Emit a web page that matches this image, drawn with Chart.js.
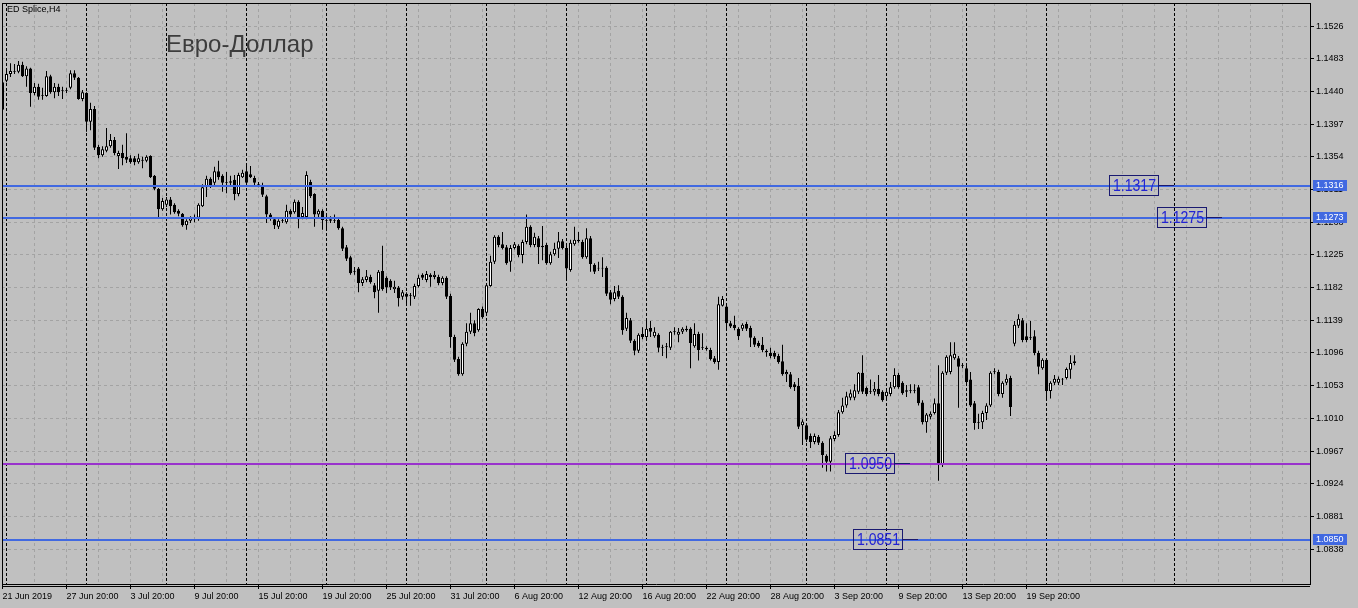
<!DOCTYPE html>
<html>
<head>
<meta charset="utf-8">
<script src="https://cdn.jsdelivr.net/npm/chart.js@4.4.1/dist/chart.umd.min.js"></script>
<style>
  html, body { margin: 0; padding: 0; background: #c0c0c0; }
  canvas { display: block; }
</style>
</head>
<body>
<canvas id="chart" width="1358" height="608"></canvas>
<script>
// H4 candles, ED Splice
const open = [
  1.1452,1.1454,1.1463,1.1466,1.1466,1.1475,1.1460,1.1470,1.1438,1.1446,
  1.1434,1.1434,1.1460,1.1439,1.1446,1.1442,1.1441,1.1445,1.1464,1.1458,
  1.1430,1.1438,1.1400,1.1417,1.1367,1.1356,1.1362,1.1368,1.1376,1.1355,
  1.1359,1.1354,1.1352,1.1352,1.1347,1.1350,1.1349,1.1355,1.1329,1.1312,
  1.1285,1.1291,1.1298,1.1291,1.1283,1.1279,1.1264,1.1270,1.1272,1.1274,
  1.1289,1.1314,1.1325,1.1320,1.1335,1.1329,1.1321,1.1320,1.1324,1.1305,
  1.1327,1.1335,1.1331,1.1326,1.1318,1.1317,1.1302,1.1278,1.1272,1.1262,
  1.1270,1.1268,1.1283,1.1281,1.1295,1.1275,1.1275,1.1321,1.1305,1.1278,
  1.1283,1.1271,1.1270,1.1271,1.1271,1.1260,1.1235,1.1222,1.1203,1.1207,
  1.1188,1.1192,1.1196,1.1185,1.1178,1.1204,1.1195,1.1191,1.1180,1.1182,
  1.1170,1.1174,1.1172,1.1170,1.1184,1.1199,1.1192,1.1199,1.1196,1.1196,
  1.1188,1.1195,1.1171,1.1117,1.1088,1.1068,1.1108,1.1124,1.1135,1.1126,
  1.1154,1.1149,1.1184,1.1216,1.1249,1.1239,1.1235,1.1216,1.1234,1.1237,
  1.1225,1.1242,1.1262,1.1238,1.1247,1.1237,1.1238,1.1214,1.1226,1.1233,
  1.1243,1.1234,1.1205,1.1239,1.1245,1.1242,1.1222,1.1247,1.1212,1.1208,
  1.1208,1.1208,1.1176,1.1167,1.1178,1.1170,1.1128,1.1139,1.1112,1.1099,
  1.1121,1.1117,1.1129,1.1118,1.1120,1.1103,1.1104,1.1103,1.1124,1.1120,
  1.1124,1.1128,1.1128,1.1105,1.1121,1.1103,1.1103,1.1100,1.1089,1.1084,
  1.1158,1.1157,1.1135,1.1133,1.1128,1.1128,1.1134,1.1129,1.1116,1.1109,
  1.1107,1.1099,1.1096,1.1096,1.1092,1.1085,1.1068,1.1068,1.1055,1.1053,
  1.1001,1.1001,1.0987,1.0979,1.0986,1.0978,1.0961,1.0953,1.0983,1.0988,
  1.1018,1.1027,1.1037,1.1037,1.1045,1.1070,1.1050,1.1046,1.1045,1.1049,
  1.1045,1.1039,1.1042,1.1051,1.1067,1.1057,1.1045,1.1047,1.1046,1.1051,
  1.1031,1.1005,1.1012,1.1017,1.1030,1.0949,1.1070,1.1071,1.1089,1.1089,
  1.1080,1.1076,1.1061,1.1030,1.1005,1.1005,1.1017,1.1027,1.1071,1.1071,
  1.1042,1.1057,1.1063,1.1108,1.1132,1.1139,1.1118,1.1117,1.1118,1.1096,
  1.1076,1.1087,1.1046,1.1057,1.1057,1.1061,1.1063,1.1074,1.1083
];
const high = [
  1.1460,1.1468,1.1477,1.1476,1.1480,1.1479,1.1473,1.1471,1.1451,1.1450,
  1.1445,1.1467,1.1462,1.1451,1.1450,1.1446,1.1445,1.1468,1.1468,1.1459,
  1.1442,1.1439,1.1425,1.1421,1.1370,1.1368,1.1392,1.1384,1.1380,1.1362,
  1.1370,1.1385,1.1356,1.1355,1.1358,1.1354,1.1356,1.1356,1.1330,1.1313,
  1.1300,1.1301,1.1301,1.1293,1.1285,1.1280,1.1272,1.1276,1.1278,1.1293,
  1.1318,1.1329,1.1327,1.1341,1.1349,1.1331,1.1334,1.1329,1.1330,1.1333,
  1.1337,1.1343,1.1342,1.1329,1.1321,1.1320,1.1304,1.1280,1.1275,1.1272,
  1.1274,1.1291,1.1285,1.1298,1.1297,1.1288,1.1335,1.1324,1.1306,1.1285,
  1.1285,1.1279,1.1276,1.1278,1.1274,1.1262,1.1238,1.1224,1.1209,1.1209,
  1.1196,1.1205,1.1199,1.1188,1.1205,1.1237,1.1197,1.1193,1.1191,1.1184,
  1.1179,1.1176,1.1175,1.1187,1.1199,1.1201,1.1204,1.1201,1.1204,1.1199,
  1.1197,1.1197,1.1174,1.1120,1.1091,1.1110,1.1135,1.1149,1.1139,1.1155,
  1.1157,1.1188,1.1224,1.1251,1.1251,1.1255,1.1238,1.1238,1.1242,1.1239,
  1.1245,1.1278,1.1264,1.1254,1.1250,1.1263,1.1241,1.1229,1.1241,1.1255,
  1.1246,1.1237,1.1245,1.1262,1.1255,1.1245,1.1260,1.1250,1.1214,1.1216,
  1.1222,1.1210,1.1179,1.1184,1.1185,1.1172,1.1149,1.1142,1.1114,1.1122,
  1.1130,1.1138,1.1138,1.1130,1.1122,1.1107,1.1109,1.1125,1.1130,1.1129,
  1.1130,1.1132,1.1130,1.1135,1.1124,1.1122,1.1105,1.1103,1.1092,1.1170,
  1.1171,1.1158,1.1138,1.1145,1.1130,1.1135,1.1137,1.1132,1.1118,1.1112,
  1.1117,1.1101,1.1103,1.1099,1.1095,1.1107,1.1074,1.1071,1.1058,1.1063,
  1.1009,1.1004,1.0990,1.0990,1.0988,1.0980,1.0963,1.0987,1.0993,1.1021,
  1.1037,1.1045,1.1048,1.1055,1.1071,1.1093,1.1052,1.1061,1.1058,1.1067,
  1.1047,1.1047,1.1058,1.1076,1.1070,1.1059,1.1054,1.1055,1.1055,1.1054,
  1.1034,1.1017,1.1019,1.1036,1.1080,1.1072,1.1093,1.1110,1.1110,1.1092,
  1.1083,1.1079,1.1071,1.1033,1.1016,1.1020,1.1030,1.1072,1.1076,1.1074,
  1.1059,1.1068,1.1066,1.1138,1.1147,1.1142,1.1135,1.1138,1.1126,1.1099,
  1.1089,1.1089,1.1059,1.1067,1.1065,1.1063,1.1077,1.1093,1.1093
];
const low = [
  1.1413,1.1452,1.1459,1.1463,1.1464,1.1459,1.1446,1.1420,1.1435,1.1429,
  1.1429,1.1433,1.1437,1.1431,1.1434,1.1430,1.1438,1.1443,1.1455,1.1429,
  1.1427,1.1387,1.1389,1.1363,1.1352,1.1354,1.1360,1.1366,1.1356,1.1338,
  1.1343,1.1346,1.1345,1.1343,1.1345,1.1339,1.1347,1.1326,1.1310,1.1275,
  1.1283,1.1288,1.1278,1.1279,1.1276,1.1262,1.1258,1.1267,1.1268,1.1270,
  1.1288,1.1301,1.1313,1.1317,1.1324,1.1308,1.1306,1.1317,1.1297,1.1302,
  1.1326,1.1317,1.1326,1.1317,1.1314,1.1301,1.1267,1.1270,1.1259,1.1259,
  1.1267,1.1266,1.1275,1.1279,1.1260,1.1272,1.1272,1.1300,1.1262,1.1275,
  1.1258,1.1258,1.1267,1.1267,1.1258,1.1230,1.1217,1.1199,1.1199,1.1176,
  1.1184,1.1189,1.1187,1.1168,1.1149,1.1178,1.1175,1.1179,1.1175,1.1157,
  1.1166,1.1158,1.1158,1.1167,1.1182,1.1192,1.1189,1.1183,1.1193,1.1185,
  1.1185,1.1167,1.1103,1.1084,1.1066,1.1066,1.1105,1.1121,1.1118,1.1124,
  1.1141,1.1146,1.1183,1.1213,1.1235,1.1232,1.1212,1.1203,1.1232,1.1222,
  1.1214,1.1239,1.1235,1.1235,1.1213,1.1218,1.1212,1.1212,1.1224,1.1221,
  1.1232,1.1192,1.1203,1.1237,1.1241,1.1220,1.1220,1.1203,1.1200,1.1204,
  1.1196,1.1171,1.1160,1.1164,1.1167,1.1120,1.1125,1.1109,1.1093,1.1096,
  1.1114,1.1114,1.1117,1.1116,1.1097,1.1092,1.1089,1.1100,1.1120,1.1110,
  1.1121,1.1124,1.1076,1.1103,1.1086,1.1100,1.1099,1.1086,1.1082,1.1074,
  1.1157,1.1129,1.1129,1.1126,1.1113,1.1125,1.1125,1.1104,1.1104,1.1103,
  1.1097,1.1091,1.1089,1.1088,1.1082,1.1066,1.1058,1.1049,1.1046,1.0996,
  1.0975,1.0979,1.0971,1.0976,1.0975,1.0945,1.0940,1.0940,1.0980,1.0986,
  1.1016,1.1024,1.1034,1.1034,1.1042,1.1042,1.1039,1.1042,1.1040,1.1039,
  1.1032,1.1034,1.1039,1.1049,1.1049,1.1041,1.1038,1.1043,1.1043,1.1027,
  1.1002,1.0991,1.1009,1.1015,1.0928,1.0946,1.1067,1.1068,1.1087,1.1024,
  1.1076,1.1055,1.1025,1.0995,1.0996,1.0996,1.1008,1.1025,1.1068,1.1039,
  1.1037,1.1054,1.1013,1.1105,1.1129,1.1110,1.1110,1.1113,1.1093,1.1068,
  1.1074,1.1034,1.1036,1.1054,1.1054,1.1054,1.1061,1.1062,1.1080
];
const close = [
  1.1416,1.1463,1.1467,1.1467,1.1475,1.1460,1.1470,1.1438,1.1446,1.1433,
  1.1435,1.1460,1.1439,1.1446,1.1439,1.1441,1.1442,1.1464,1.1458,1.1430,
  1.1439,1.1400,1.1417,1.1366,1.1356,1.1364,1.1368,1.1376,1.1359,1.1359,
  1.1352,1.1350,1.1347,1.1347,1.1352,1.1349,1.1354,1.1327,1.1312,1.1285,
  1.1296,1.1298,1.1289,1.1281,1.1279,1.1264,1.1270,1.1274,1.1274,1.1291,
  1.1314,1.1325,1.1317,1.1335,1.1327,1.1320,1.1320,1.1322,1.1305,1.1330,
  1.1333,1.1320,1.1327,1.1320,1.1317,1.1304,1.1278,1.1275,1.1264,1.1270,
  1.1271,1.1283,1.1278,1.1295,1.1272,1.1280,1.1330,1.1302,1.1278,1.1283,
  1.1271,1.1270,1.1272,1.1270,1.1260,1.1233,1.1220,1.1201,1.1204,1.1188,
  1.1193,1.1197,1.1189,1.1176,1.1203,1.1180,1.1182,1.1182,1.1183,1.1168,
  1.1176,1.1170,1.1171,1.1184,1.1195,1.1195,1.1200,1.1196,1.1199,1.1188,
  1.1195,1.1170,1.1117,1.1087,1.1068,1.1108,1.1124,1.1135,1.1122,1.1154,
  1.1143,1.1185,1.1216,1.1249,1.1238,1.1234,1.1214,1.1234,1.1239,1.1225,
  1.1242,1.1262,1.1238,1.1249,1.1235,1.1235,1.1214,1.1226,1.1233,1.1243,
  1.1234,1.1207,1.1241,1.1245,1.1243,1.1222,1.1247,1.1213,1.1203,1.1207,
  1.1207,1.1174,1.1166,1.1176,1.1170,1.1126,1.1142,1.1112,1.1099,1.1120,
  1.1117,1.1128,1.1124,1.1124,1.1103,1.1104,1.1105,1.1124,1.1125,1.1124,
  1.1128,1.1126,1.1109,1.1121,1.1100,1.1104,1.1101,1.1088,1.1084,1.1160,
  1.1167,1.1135,1.1131,1.1129,1.1118,1.1133,1.1128,1.1116,1.1107,1.1105,
  1.1100,1.1097,1.1092,1.1091,1.1084,1.1068,1.1071,1.1051,1.1051,1.0999,
  1.1006,1.0982,1.0979,1.0987,1.0978,1.0962,1.0953,1.0984,1.0988,1.1018,
  1.1027,1.1039,1.1043,1.1047,1.1070,1.1045,1.1042,1.1045,1.1049,1.1042,
  1.1034,1.1045,1.1051,1.1067,1.1051,1.1043,1.1047,1.1046,1.1047,1.1030,
  1.1005,1.1015,1.1016,1.1030,1.0949,1.1070,1.1091,1.1093,1.1095,1.1078,
  1.1079,1.1058,1.1027,1.1004,1.1004,1.1017,1.1027,1.1070,1.1072,1.1042,
  1.1057,1.1062,1.1025,1.1133,1.1141,1.1113,1.1113,1.1116,1.1096,1.1078,
  1.1087,1.1046,1.1057,1.1062,1.1062,1.1062,1.1075,1.1083,1.1085
];

// time axis: one label every 16 bars, week separators at the first bar of each week
const timeLabels = ['21 Jun 2019','27 Jun 20:00','3 Jul 20:00','9 Jul 20:00','15 Jul 20:00',
  '19 Jul 20:00','25 Jul 20:00','31 Jul 20:00','6 Aug 20:00','12 Aug 20:00','16 Aug 20:00',
  '22 Aug 20:00','28 Aug 20:00','3 Sep 20:00','9 Sep 20:00','13 Sep 20:00','19 Sep 20:00'];
const weekStarts = [1,21,41,61,81,101,121,141,161,181,201,221,241,261,293];

// price axis
const priceTicks = [1.1526,1.1483,1.1440,1.1397,1.1354,1.1311,1.1268,1.1225,1.1182,
  1.1139,1.1096,1.1053,1.1010,1.0967,1.0924,1.0881,1.0838];
const yMin = 1.07922, yMax = 1.15563;

// horizontal levels and their text notes
const levels = [1.1316, 1.1273, 1.0950, 1.0850];
const levelTagged = [true, true, false, true];
const noteTexts = ['1.1317', '1.1275', '1.0950', '1.0851'];
const noteBars = [293, 305, 227, 229];

const chartTitle = 'ED Splice,H4';
const chartCaption = 'Евро-Доллар';

const FONT = '"Liberation Sans", Arial, sans-serif';
const GRID = '#a3a3a3';
const levelColors = ['#4169e1', '#4169e1', '#9932cc', '#4169e1'];

Chart.defaults.font.family = FONT;
Chart.defaults.font.size = 9;
Chart.defaults.color = '#000';

const barIdx = open.map((_, i) => i);
const gridBars = [];
for (let b = 0; b <= 326; b += 8) gridBars.push(b);

const labelAt = v => (v % 16 === 0 && timeLabels[v / 16]) ? timeLabels[v / 16] : '';

// no automatic edge padding, the plot area is fixed like the terminal window
const noPad = s => { s.paddingTop = 0; s.paddingBottom = 0; s.paddingLeft = 0; s.paddingRight = 0; };

const overlay = {
  id: 'overlay',
  beforeDatasetsDraw(chart) {
    const { ctx, chartArea: a, scales: { x } } = chart;
    ctx.save();
    ctx.strokeStyle = '#000';
    ctx.lineWidth = 1;
    ctx.setLineDash([3, 2]);
    weekStarts.forEach(b => {
      const px = Math.floor(x.getPixelForValue(b)) + 0.5;
      ctx.beginPath();
      ctx.moveTo(px, a.top);
      ctx.lineTo(px, a.bottom);
      ctx.stroke();
    });
    ctx.restore();
  },
  afterDatasetsDraw(chart) {
    const { ctx, chartArea: a, scales: { x, y } } = chart;
    ctx.save();
    levels.forEach((p, i) => {
      const py = Math.round(y.getPixelForValue(p));
      ctx.fillStyle = levelColors[i];
      ctx.fillRect(a.left, py - 1, a.right - a.left, 2);
    });
    levels.forEach((p, i) => {
      const py = Math.round(y.getPixelForValue(p));
      const end = Math.floor(x.getPixelForValue(noteBars[i]));
      const bx = end - 16 - 49;
      ctx.fillStyle = '#191970';
      ctx.fillRect(bx + 49, py - 1, 16, 1);
      ctx.strokeStyle = '#191970';
      ctx.lineWidth = 1;
      ctx.strokeRect(bx + 0.5, py - 10.5, 49, 20);
      ctx.font = '16px ' + FONT;
      ctx.fillStyle = '#2323d2';
      ctx.textBaseline = 'middle';
      ctx.fillText(noteTexts[i], bx + 4, py + 1, 43);
    });
    ctx.restore();
  },
  afterDraw(chart) {
    const { ctx, chartArea: a, scales: { y } } = chart;
    ctx.save();
    ctx.fillStyle = '#000';
    ctx.fillRect(a.left, a.top, a.right - a.left, 1);
    ctx.fillRect(a.left, a.top, 1, a.bottom - a.top);
    ctx.fillRect(a.left, a.bottom + 2, a.right - a.left, 1);
    // price tags on the axis
    levels.forEach((p, i) => {
      if (!levelTagged[i]) return;
      const py = Math.round(y.getPixelForValue(p));
      ctx.fillStyle = levelColors[i];
      ctx.fillRect(a.right + 3, py - 6, 34, 11);
      ctx.fillStyle = '#fff';
      ctx.font = '9px ' + FONT;
      ctx.textBaseline = 'middle';
      ctx.fillText(p.toFixed(4), a.right + 6, py);
    });
    ctx.fillStyle = '#000';
    ctx.font = '9px ' + FONT;
    ctx.textBaseline = 'middle';
    ctx.fillText(chartTitle, 7, 10);
    ctx.fillStyle = '#3c3c3c';
    ctx.font = '24px ' + FONT;
    ctx.textBaseline = 'alphabetic';
    ctx.fillText(chartCaption, 166, 52);
    ctx.restore();
  }
};

new Chart(document.getElementById('chart'), {
  type: 'bar',
  data: {
    datasets: [
      {
        label: 'body',
        data: barIdx.map(i => ({ x: i, y: [open[i], close[i]] })),
        backgroundColor: barIdx.map(i => close[i] >= open[i] ? '#ffffff' : '#000000'),
        borderColor: '#000',
        borderWidth: 1,
        borderSkipped: false,
        barThickness: 3,
        grouped: false,
        inflateAmount: 0
      },
      {
        label: 'wick',
        data: barIdx.map(i => ({ x: i, y: [low[i], high[i]] })),
        backgroundColor: '#000',
        borderWidth: 0,
        barThickness: 1,
        grouped: false,
        inflateAmount: 0
      }
    ]
  },
  options: {
    responsive: false,
    animation: false,
    layout: { padding: { left: 2, top: 3, right: 0, bottom: 0 }, autoPadding: false },
    plugins: { legend: { display: false }, tooltip: { enabled: false } },
    scales: {
      x: {
        type: 'linear',
        offset: false,
        min: -0.125,
        max: 326.875,
        afterFit: s => { s.height = 24; noPad(s); },
        afterBuildTicks: s => { s.ticks = gridBars.map(v => ({ value: v })); },
        grid: {
          offset: false,
          color: GRID,
          tickLength: 5,
          tickBorderDash: [],
          tickColor: c => (c.tick && labelAt(c.tick.value)) ? '#000' : 'rgba(0,0,0,0)'
        },
        border: { display: true, color: '#000', width: 1, dash: [3, 3] },
        ticks: { align: 'start', maxRotation: 0, autoSkip: false, padding: 2, callback: v => labelAt(v) }
      },
      y: {
        position: 'right',
        min: yMin,
        max: yMax,
        afterFit: s => { s.width = 48; noPad(s); },
        afterBuildTicks: s => { s.ticks = priceTicks.map(v => ({ value: v })); },
        grid: { color: GRID, tickLength: 4, tickColor: '#000', tickBorderDash: [] },
        border: { display: true, color: '#000', width: 1, dash: [3, 3] },
        ticks: { padding: 2, callback: v => v.toFixed(4) }
      }
    }
  },
  plugins: [overlay]
});
</script>
</body>
</html>
